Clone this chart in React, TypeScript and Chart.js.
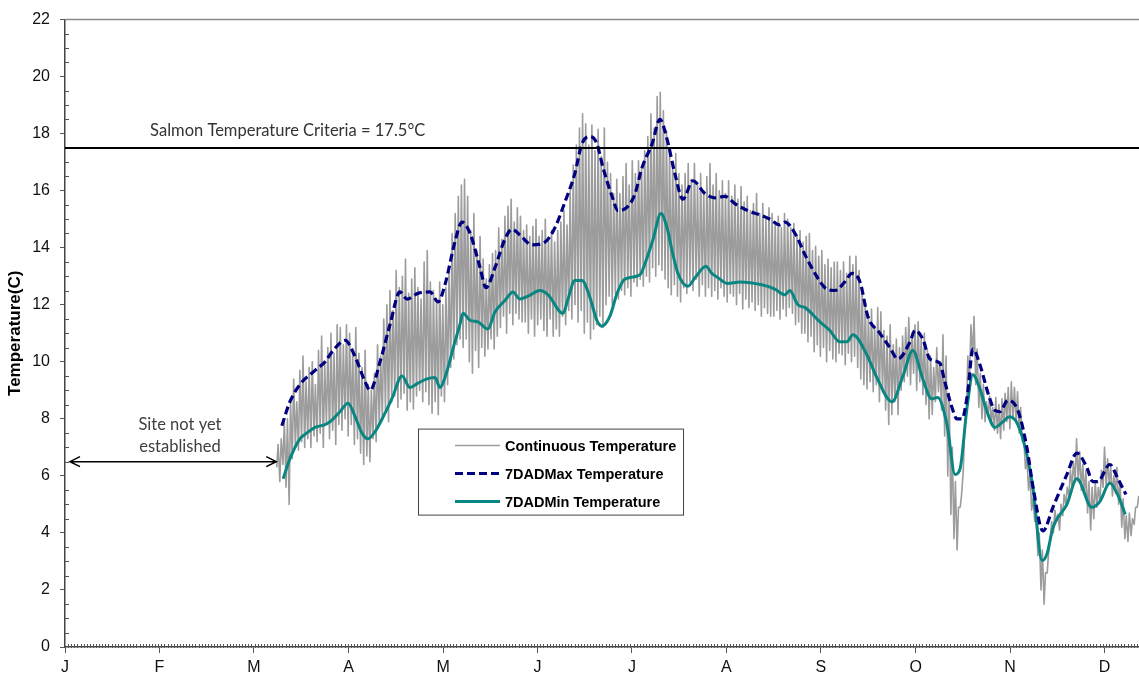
import React, { useEffect, useRef } from 'react';
import { Chart, registerables } from 'chart.js';

Chart.register(...registerables);

// ---------- axis / labels ----------
const monthLabels = ['J', 'F', 'M', 'A', 'M', 'J', 'J', 'A', 'S', 'O', 'N', 'D'];
const monthTickDays = [0, 30.4, 60.8, 91.3, 121.7, 152.1, 182.5, 212.9, 243.3, 273.8, 304.2, 334.6];
const xMaxDay = 345.7;
const yMin = 0;
const yMax = 22;
const criteriaValue = 17.5;
const criteriaLabel = 'Salmon Temperature Criteria = 17.5°C';
const siteLines = ['Site not yet', 'established'];
const yTitle = 'Temperature(C)';

// ---------- continuous temperature: daily high / low, starting at day 68 ----------
const contStartDay = 68;
const contHigh = [
  7.1, 7.3, 7.9, 8.0, 8.6, 9.4, 8.6, 9.7, 10.2, 9.3,
  9.8, 10.0, 9.2, 10.4, 10.9, 9.9, 10.5, 11.0, 10.3, 11.3,
  11.2, 10.6, 11.3, 11.0, 10.4, 11.2, 10.3, 9.8, 10.4, 9.2,
  9.0, 9.6, 10.6, 10.2, 11.5, 12.0, 12.5, 11.8, 13.2, 12.6,
  13.0, 13.6, 12.4, 12.9, 13.3, 12.6, 12.2, 13.5, 13.9, 12.8,
  12.5, 12.2, 12.8, 12.0, 12.6, 13.2, 14.5, 15.2, 15.8, 16.2,
  16.4, 15.8, 14.6, 15.2, 13.9, 14.4, 13.6, 12.9, 13.4, 13.8,
  13.9, 14.7, 14.3, 15.1, 15.45, 15.7, 14.9, 15.4, 15.1, 14.6,
  14.8, 14.4, 14.75, 15.0, 14.4, 14.6, 15.0, 14.3, 14.6, 14.2,
  14.6, 14.9, 15.3, 14.8, 16.0, 16.9, 17.6, 18.2, 18.7, 18.35,
  17.6, 18.3, 17.4, 18.15, 17.2, 18.2, 17.0, 16.6, 15.9, 16.4,
  15.9, 16.5, 16.95, 16.2, 17.05, 16.6, 17.05, 16.8, 17.4, 17.9,
  18.7, 18.2, 19.3, 19.45, 18.8, 18.1, 17.5, 16.95, 17.3, 16.6,
  16.2, 16.6, 16.95, 16.4, 16.95, 16.2, 16.6, 16.0, 16.5, 16.95,
  16.2, 16.6, 16.0, 16.35, 15.9, 16.35, 15.8, 16.2, 15.7, 16.15,
  15.6, 15.8, 15.3, 15.55, 15.9, 15.2, 15.55, 15.0, 15.4, 15.2,
  14.9, 15.1, 14.7, 15.2, 15.0, 14.7, 14.85, 14.4, 14.6, 14.2,
  14.4, 14.5, 13.9, 14.05, 13.7, 13.9, 13.4, 13.6, 13.3, 13.5,
  13.5, 13.2, 13.5, 13.1, 13.7, 13.4, 13.7, 13.2, 12.6, 12.1,
  11.6, 11.85, 11.2, 11.9, 11.75, 11.1, 10.9, 11.3, 10.6, 10.8,
  10.5, 10.9, 11.2, 11.55, 11.0, 11.3, 11.4, 10.8, 11.0, 10.4,
  10.2, 9.8, 10.5, 10.0, 10.95, 10.2, 8.9, 7.0, 5.8, 4.9,
  5.35, 7.8, 10.2, 11.3, 11.6, 10.45, 9.6, 9.2, 8.6, 8.8,
  8.4, 8.75, 8.5, 8.7, 8.9, 9.1, 9.3, 9.1, 8.95, 8.4,
  7.4, 6.6, 6.1, 5.2, 4.6, 4.0, 3.4, 2.6, 3.3, 4.4,
  4.8, 4.65, 5.0, 5.35, 5.6, 6.2, 6.5, 7.3, 6.85, 6.4,
  6.2, 5.8, 5.6, 5.8, 5.6, 6.2, 7.0, 6.6, 6.3, 6.0,
  6.3, 5.8, 5.2, 4.6, 4.7, 4.5, 4.9, 5.3,
];
const contLow = [
  6.3, 5.8, 6.4, 5.6, 5.0, 6.6, 7.0, 6.9, 7.2, 7.0,
  7.3, 7.0, 7.4, 7.2, 7.5, 7.0, 7.8, 7.3, 7.6, 7.1,
  7.8, 7.6, 8.0, 7.4, 7.8, 7.1, 7.3, 6.8, 6.4, 6.7,
  6.5, 7.3, 7.2, 7.8, 8.0, 8.3, 7.9, 8.6, 8.8, 8.4,
  8.7, 8.9, 8.3, 8.6, 8.35, 8.8, 9.0, 8.6, 8.95, 8.5,
  8.2, 8.6, 8.15, 8.8, 8.6, 9.2, 9.8, 10.1, 10.6, 10.8,
  10.5, 10.8, 10.0, 9.6, 10.4, 9.8, 10.5, 10.2, 10.45, 10.8,
  10.45, 10.9, 11.2, 11.6, 11.0, 11.7, 11.3, 11.7, 11.5, 11.4,
  11.4, 11.0, 11.5, 10.9, 11.3, 11.5, 11.1, 10.9, 11.5, 10.9,
  11.15, 10.9, 11.6, 11.3, 11.8, 11.5, 12.0, 11.4, 11.8, 11.0,
  11.4, 10.8, 11.15, 11.3, 11.6, 11.2, 12.0, 12.3, 12.0, 12.4,
  12.2, 12.5, 12.35, 12.6, 12.3, 12.8, 12.65, 12.9, 12.65, 13.0,
  12.8, 13.3, 13.0, 13.4, 13.2, 12.9, 12.6, 12.35, 12.7, 12.3,
  12.1, 12.6, 12.4, 12.8, 12.5, 12.9, 12.3, 12.7, 12.3, 12.6,
  12.3, 12.5, 12.2, 12.6, 12.3, 12.1, 12.4, 12.3, 12.0, 12.4,
  11.85, 12.2, 11.9, 12.1, 11.8, 12.0, 11.6, 11.9, 11.7, 11.6,
  11.6, 11.8, 11.5, 11.85, 11.6, 11.9, 11.7, 11.3, 11.4, 11.0,
  11.0, 10.7, 10.9, 10.35, 10.6, 10.2, 10.5, 10.0, 10.4, 10.1,
  10.0, 10.3, 10.25, 9.9, 10.3, 10.0, 10.2, 9.8, 9.4, 9.2,
  9.05, 9.3, 8.95, 9.2, 8.6, 8.95, 8.3, 7.8, 8.15, 8.6,
  8.15, 9.0, 9.3, 9.5, 9.2, 9.6, 9.0, 9.3, 8.85, 8.5,
  8.0, 8.15, 8.6, 8.95, 8.3, 7.4, 6.0, 4.65, 3.8, 3.4,
  4.9, 6.2, 8.2, 9.4, 10.2, 9.2, 8.4, 8.0, 7.9, 8.1,
  7.9, 7.6, 7.5, 7.3, 7.6, 7.9, 7.65, 8.0, 7.9, 7.5,
  7.2, 6.25, 5.5, 4.8, 4.4, 3.2, 2.0, 1.5, 2.6, 3.8,
  4.0, 4.4, 4.1, 4.6, 5.0, 5.3, 5.6, 5.8, 5.8, 5.5,
  5.35, 4.7, 4.1, 4.5, 4.9, 5.1, 5.6, 5.55, 5.7, 5.3,
  5.4, 5.0, 4.2, 3.8, 3.7, 3.9, 4.3, 4.9,
];

// ---------- 7-day average daily max ----------
const maxDays = [
  69.8, 72.4, 75.6, 80.5, 83.7, 86.3, 90.2, 93.3, 96.6, 98.2,
  101.4, 104.6, 107.8, 110.1, 113.6, 117.5, 120.1, 122.3, 125.5, 127.8,
  130.4, 133.6, 135.5, 138.4, 141.6, 143.9, 146.4, 150.3, 154.5, 157.7,
  160.9, 164.1, 166.4, 169.0, 171.2, 173.2, 176.1, 178.0, 181.2, 183.5,
  185.7, 189.0, 191.5, 193.8, 196.3, 198.9, 202.1, 206.0, 209.2, 212.4,
  215.6, 219.8, 223.7, 226.9, 230.1, 231.7, 235.0, 238.2, 241.4, 244.6,
  247.8, 251.0, 253.3, 255.9, 258.4, 262.3, 265.5, 268.1, 272.0, 273.6,
  276.1, 278.4, 281.6, 283.2, 285.5, 287.1, 288.7, 290.6, 292.2, 294.5,
  297.1, 299.3, 300.9, 303.5, 306.7, 309.6, 311.6, 314.8, 318.0, 322.5,
  325.7, 328.9, 330.8, 332.4, 336.3, 338.9, 341.5,
];
const maxVals = [
  7.76, 8.6, 9.2, 9.7, 10.0, 10.4, 10.75, 10.2, 9.3, 9.0,
  10.0, 11.3, 12.45, 12.2, 12.4, 12.45, 12.1, 12.7, 14.2, 14.9,
  14.5, 13.3, 12.6, 13.3, 14.3, 14.65, 14.45, 14.1, 14.2, 14.7,
  15.6, 16.6, 17.65, 17.9, 17.65, 16.8, 15.8, 15.3, 15.45, 15.9,
  16.8, 17.65, 18.5, 17.8, 16.6, 15.7, 16.35, 15.9, 15.75, 15.8,
  15.55, 15.3, 15.15, 15.0, 14.8, 14.9, 14.5, 13.75, 13.1, 12.6,
  12.5, 12.8, 13.1, 12.8, 11.6, 11.0, 10.5, 10.1, 10.7, 11.1,
  10.8, 10.1, 9.95, 9.3, 8.4, 8.0, 8.0, 8.95, 10.45, 9.9,
  8.9, 8.3, 8.25, 8.65, 8.3, 7.0, 5.6, 4.07, 4.9, 6.05,
  6.8, 6.3, 5.8, 5.8, 6.4, 5.9, 5.35,
];

// ---------- 7-day average daily min ----------
const minDays = [
  70.2, 72.4, 75.6, 77.2, 80.5, 83.7, 85.3, 88.5, 91.1, 93.3,
  95.6, 97.5, 99.8, 103.0, 105.2, 108.5, 111.0, 113.6, 116.5, 119.1,
  120.7, 122.3, 125.5, 127.1, 128.1, 130.4, 132.9, 136.1, 138.4, 141.6,
  144.2, 146.4, 149.0, 152.9, 155.5, 160.3, 161.9, 164.1, 166.4, 169.0,
  171.2, 172.8, 175.4, 177.7, 180.2, 185.1, 186.7, 189.3, 191.8, 193.8,
  195.4, 197.3, 200.5, 202.8, 206.3, 208.2, 210.2, 213.1, 217.3, 224.3,
  228.5, 231.7, 233.3, 235.9, 238.2, 243.0, 246.2, 249.4, 251.7, 253.6,
  258.1, 261.3, 266.2, 269.7, 272.9, 276.1, 279.0, 280.9, 283.9, 286.5,
  288.1, 290.3, 292.2, 294.5, 296.8, 299.3, 301.9, 304.1, 306.7, 309.6,
  311.6, 314.5, 316.1, 318.0, 322.5, 325.7, 330.5, 333.1, 336.3, 338.8,
  341.3,
];
const minVals = [
  5.9, 6.6, 7.3, 7.45, 7.7, 7.8, 7.9, 8.25, 8.55, 8.1,
  7.5, 7.3, 7.55, 8.2, 8.7, 9.5, 9.1, 9.25, 9.4, 9.45,
  9.1, 9.45, 10.7, 11.3, 11.7, 11.45, 11.4, 11.15, 11.75, 12.15,
  12.45, 12.2, 12.3, 12.5, 12.35, 11.7, 12.2, 12.85, 12.85, 12.25,
  11.45, 11.25, 11.6, 12.4, 12.9, 13.05, 13.45, 14.3, 15.2, 14.7,
  13.9, 13.1, 12.65, 12.95, 13.35, 13.1, 12.95, 12.75, 12.8, 12.7,
  12.55, 12.35, 12.5, 12.0, 11.9, 11.4, 11.1, 10.7, 10.7, 10.95,
  10.25, 9.45, 8.6, 9.5, 10.4, 9.4, 8.7, 8.75, 7.8, 6.05,
  6.25, 8.35, 9.55, 9.05, 8.25, 7.7, 7.9, 8.07, 7.8, 6.75,
  5.55, 3.03, 3.27, 4.18, 5.0, 5.9, 4.9, 5.1, 5.75, 5.35,
  4.65,
];

// ---------- helpers to build library tables ----------
function buildContinuous() {
  const pts: { x: number; y: number }[] = [];
  contHigh.forEach((h, i) => {
    pts.push({ x: contStartDay + i + 0.15, y: contLow[i] });
    pts.push({ x: contStartDay + i + 0.6, y: h });
  });
  return pts;
}
function pairs(xs: number[], ys: number[]) {
  return xs.map((x, i) => ({ x, y: ys[i] }));
}

const AXIS_FONT = '"Liberation Sans", Arial, sans-serif';
const NOTE_FONT = 'Lato, "Open Sans", sans-serif';

const decorPlugin = {
  id: 'decor',
  beforeDatasetsDraw(chart: any) {
    const { ctx, chartArea, scales } = chart;
    const { left, right, top, bottom } = chartArea;
    const x = scales.x;
    const y = scales.y;
    ctx.save();
    ctx.strokeStyle = '#8a8a8a';
    ctx.lineWidth = 1.5;
    ctx.beginPath();
    ctx.moveTo(left, top);
    ctx.lineTo(right, top);
    ctx.stroke();

    ctx.strokeStyle = '#555';
    ctx.lineWidth = 1;
    ctx.beginPath();
    for (let d = 1; d <= x.max; d++) {
      const px = Math.round(x.getPixelForValue(d)) + 0.5;
      ctx.moveTo(px, bottom - 3);
      ctx.lineTo(px, bottom + 1);
    }
    for (let v = 0.5; v < y.max; v += 0.5) {
      if (v % 2 === 0) continue;
      const py = Math.round(y.getPixelForValue(v)) + 0.5;
      ctx.moveTo(left, py);
      ctx.lineTo(left + 4, py);
    }
    ctx.stroke();
    ctx.restore();
  },
  afterDatasetsDraw(chart: any) {
    const { ctx, chartArea, scales } = chart;
    const x = scales.x;
    const y = scales.y;
    ctx.save();

    // criteria label
    ctx.font = `16.5px ${NOTE_FONT}`;
    ctx.fillStyle = '#333';
    ctx.textAlign = 'left';
    ctx.textBaseline = 'middle';
    ctx.fillText(criteriaLabel, x.getPixelForValue(27.4), y.getPixelForValue(18.1));

    // site not yet established
    ctx.textAlign = 'center';
    ctx.fillStyle = '#404040';
    ctx.fillText(siteLines[0], x.getPixelForValue(37), y.getPixelForValue(7.8));
    ctx.fillText(siteLines[1], x.getPixelForValue(37), y.getPixelForValue(7.03));

    // double arrow
    const ay = y.getPixelForValue(6.5);
    const ax1 = x.getPixelForValue(1.6);
    const ax2 = x.getPixelForValue(68.0);
    ctx.strokeStyle = '#000';
    ctx.lineWidth = 1.5;
    ctx.beginPath();
    ctx.moveTo(ax1, ay);
    ctx.lineTo(ax2, ay);
    ctx.moveTo(ax1 + 10, ay - 5);
    ctx.lineTo(ax1, ay);
    ctx.lineTo(ax1 + 10, ay + 5);
    ctx.moveTo(ax2 - 10, ay - 5);
    ctx.lineTo(ax2, ay);
    ctx.lineTo(ax2 - 10, ay + 5);
    ctx.stroke();

    // legend box
    const lx = chartArea.left + 353;
    const ly = chartArea.top + 409;
    const lw = 265;
    const lh = 86;
    ctx.fillStyle = '#fff';
    ctx.fillRect(lx, ly, lw, lh);
    ctx.strokeStyle = '#444';
    ctx.lineWidth = 1;
    ctx.strokeRect(lx + 0.5, ly + 0.5, lw, lh);
    const rows = [
      { ds: chart.data.datasets[3], dy: 17 },
      { ds: chart.data.datasets[1], dy: 45 },
      { ds: chart.data.datasets[2], dy: 73 },
    ];
    ctx.font = `bold 14.5px ${AXIS_FONT}`;
    ctx.textAlign = 'left';
    ctx.textBaseline = 'middle';
    rows.forEach((r) => {
      const ry = ly + r.dy;
      ctx.strokeStyle = r.ds.borderColor;
      ctx.lineWidth = r.ds.legendWidth;
      ctx.setLineDash(r.ds.borderDash || []);
      ctx.beginPath();
      ctx.moveTo(lx + 37, ry);
      ctx.lineTo(lx + 82, ry);
      ctx.stroke();
      ctx.setLineDash([]);
      ctx.fillStyle = '#000';
      ctx.fillText(r.ds.label, lx + 87, ry + 1);
    });
    ctx.restore();
  },
};

export default function App() {
  const canvasRef = useRef<HTMLCanvasElement | null>(null);

  useEffect(() => {
    if (!canvasRef.current) return;
    const chart = new Chart(canvasRef.current, {
      type: 'line',
      data: {
        datasets: [
          {
            label: 'Criteria',
            data: [
              { x: 0, y: criteriaValue },
              { x: xMaxDay, y: criteriaValue },
            ],
            borderColor: '#000',
            borderWidth: 2,
            pointRadius: 0,
          },
          {
            label: '7DADMax Temperature',
            data: pairs(maxDays, maxVals),
            borderColor: '#000080',
            borderWidth: 3.2,
            borderDash: [8, 4],
            cubicInterpolationMode: 'monotone',
            pointRadius: 0,
            legendWidth: 3,
          } as any,
          {
            label: '7DADMin Temperature',
            data: pairs(minDays, minVals),
            borderColor: '#0a8682',
            borderWidth: 3,
            cubicInterpolationMode: 'monotone',
            pointRadius: 0,
            legendWidth: 3,
          } as any,
          {
            label: 'Continuous Temperature',
            data: buildContinuous(),
            borderColor: '#9c9c9c',
            borderWidth: 1.6,
            pointRadius: 0,
            tension: 0,
            legendWidth: 1.5,
          } as any,
        ],
      },
      options: {
        responsive: false,
        animation: false,
        devicePixelRatio: 1,
        layout: { padding: { top: 15, left: 0, right: 0, bottom: 0 } },
        plugins: { legend: { display: false }, tooltip: { enabled: false } },
        elements: { point: { radius: 0 }, line: { borderJoinStyle: 'round' } },
        scales: {
          x: {
            type: 'linear',
            min: 0,
            max: xMaxDay,
            afterBuildTicks: (scale: any) => {
              scale.ticks = monthTickDays.map((v) => ({ value: v }));
            },
            afterFit: (scale: any) => {
              scale.height = 38;
            },
            ticks: {
              autoSkip: false,
              maxRotation: 0,
              padding: 5,
              color: '#111',
              font: { family: AXIS_FONT, size: 16 },
              callback: (_v: any, i: number) => monthLabels[i],
            },
            grid: { display: true, drawOnChartArea: false, drawTicks: true, tickLength: 6, color: '#555' },
            border: { display: true, color: '#444', width: 1.5 },
          },
          y: {
            type: 'linear',
            min: yMin,
            max: yMax,
            afterFit: (scale: any) => {
              scale.width = 65;
            },
            ticks: {
              stepSize: 2,
              padding: 10,
              color: '#111',
              font: { family: AXIS_FONT, size: 16 },
            },
            grid: { display: true, drawOnChartArea: false, drawTicks: true, tickLength: 5, color: '#555' },
            border: { display: true, color: '#444', width: 1.5 },
            title: {
              display: true,
              text: yTitle,
              color: '#000',
              font: { family: AXIS_FONT, size: 17, weight: 'bold' },
              padding: { top: 5, bottom: 0 },
            },
          },
        },
      },
      plugins: [decorPlugin],
    } as any);
    return () => chart.destroy();
  }, []);

  return (
    <div style={{ position: 'fixed', left: 0, top: 0, width: 1139, height: 685, background: '#fff' }}>
      <canvas ref={canvasRef} width={1139} height={685} style={{ display: 'block' }} />
    </div>
  );
}
